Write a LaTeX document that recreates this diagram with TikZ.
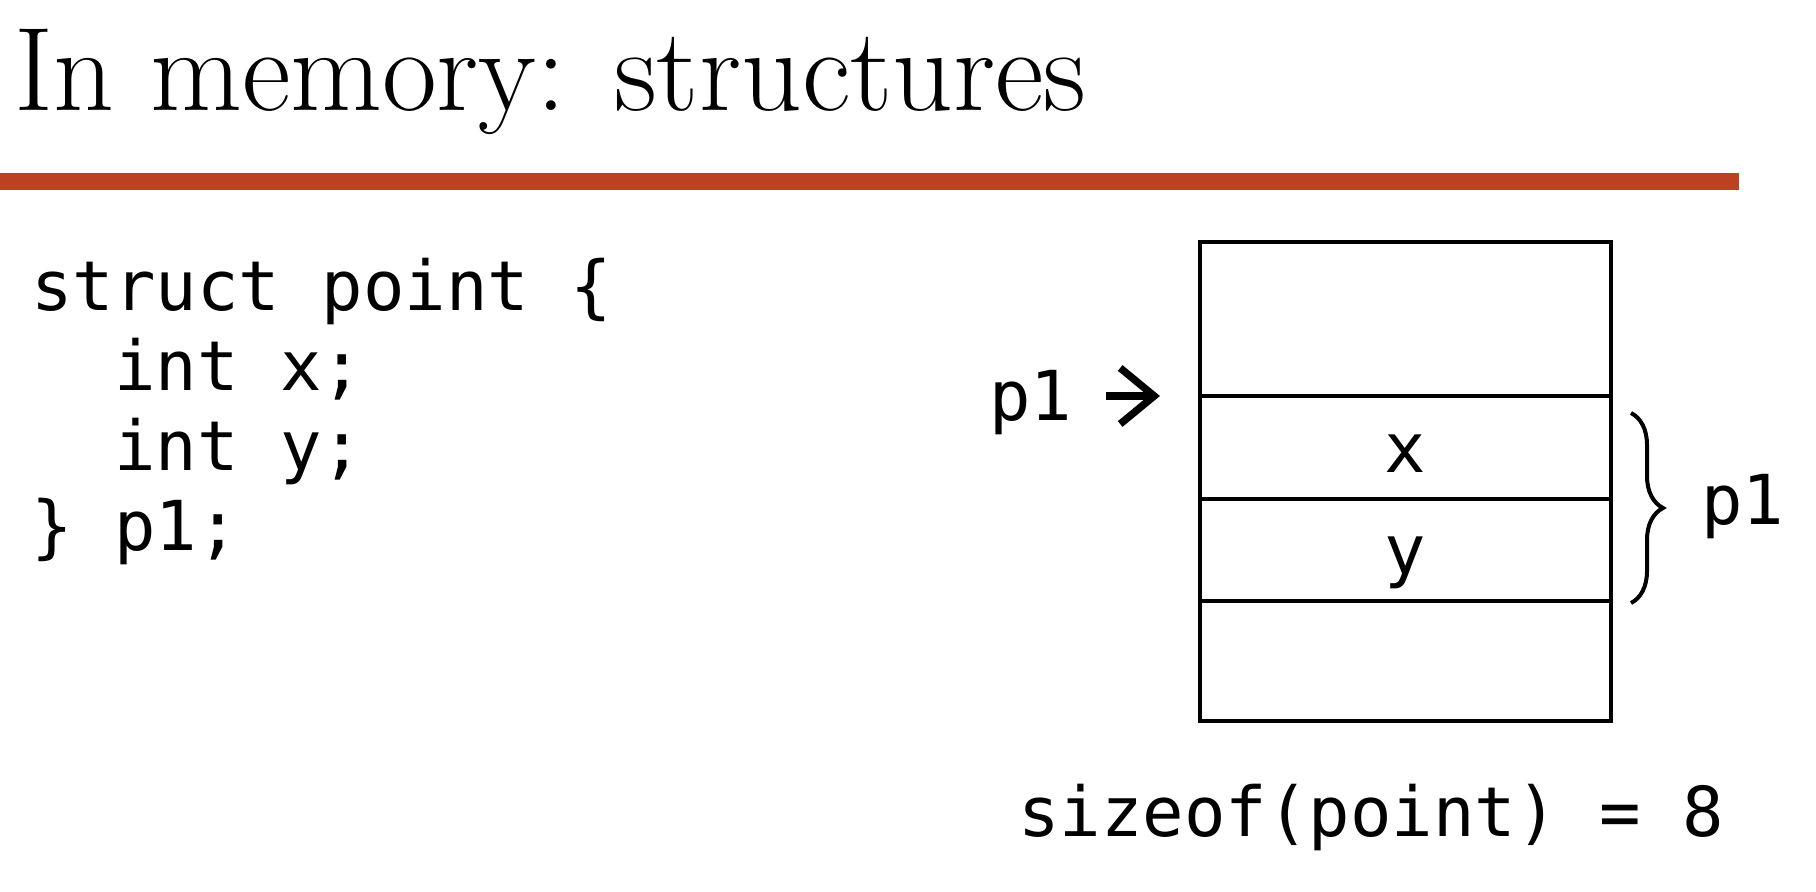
\documentclass[tikz,border=0pt]{standalone}
\usepackage{fontspec}
\setmonofont{DejaVu Sans Mono}
\usepackage{tikz}
\usetikzlibrary{positioning}
\usetikzlibrary{arrows.meta}
\usetikzlibrary{decorations.pathreplacing}
\definecolor{barred}{RGB}{188,64,33}
\begin{document}
\begin{tikzpicture}[x=0.5pt,y=-0.5pt,code/.style={anchor=base west,inner sep=0pt,font=\fontsize{34.45}{40}\ttfamily},cell/.style={draw,line width=1.7pt,outer sep=0pt,inner sep=0pt,minimum width=205.5pt,text height=25pt,text depth=0pt,font=\fontsize{34.45}{40}\ttfamily}]
\useasboundingbox (0,0) rectangle (1816,892);
\node (title) at (14,111) [anchor=base west,inner sep=0pt,font=\fontsize{59.5}{62}\selectfont] {In memory: structures};
\fill[barred] (0,172.7) rectangle (1739,190);
\node (c1) at (31,311) [code] {struct point \{};
\node (c2) at (31,391) [code] {\ \ int x;};
\node (c3) at (31,471) [code] {\ \ int y;};
\node (c4) at (31,551) [code] {\} p1;};
\node (m0) at (1405.5,242) [cell,anchor=north,minimum height=77pt] {};
\node (mx) [cell,below=0pt of m0,minimum height=51.5pt] {x};
\node (my) [cell,below=0pt of mx,minimum height=51pt] {y};
\node (m3) [cell,below=0pt of my,minimum height=60pt] {};
\node (ptr) at (989,421) [code] {p1};
\draw[-{Straight Barb[length=17pt,width=28pt,line cap=butt,line join=miter]},line width=3.7pt,shorten <=16.5pt,shorten >=20pt] (ptr.east |- m0.south west) -- (m0.south west);
\draw[decorate,decoration={brace,amplitude=16pt},line width=2pt] ([xshift=10pt,yshift=-8.5pt]mx.north east) -- ([xshift=10pt,yshift=-1pt]my.south east);
\node (name) at (1701,525) [code] {p1};
\node (size) at (1018,836) [code] {sizeof(point) = 8};
\end{tikzpicture}
\end{document}
